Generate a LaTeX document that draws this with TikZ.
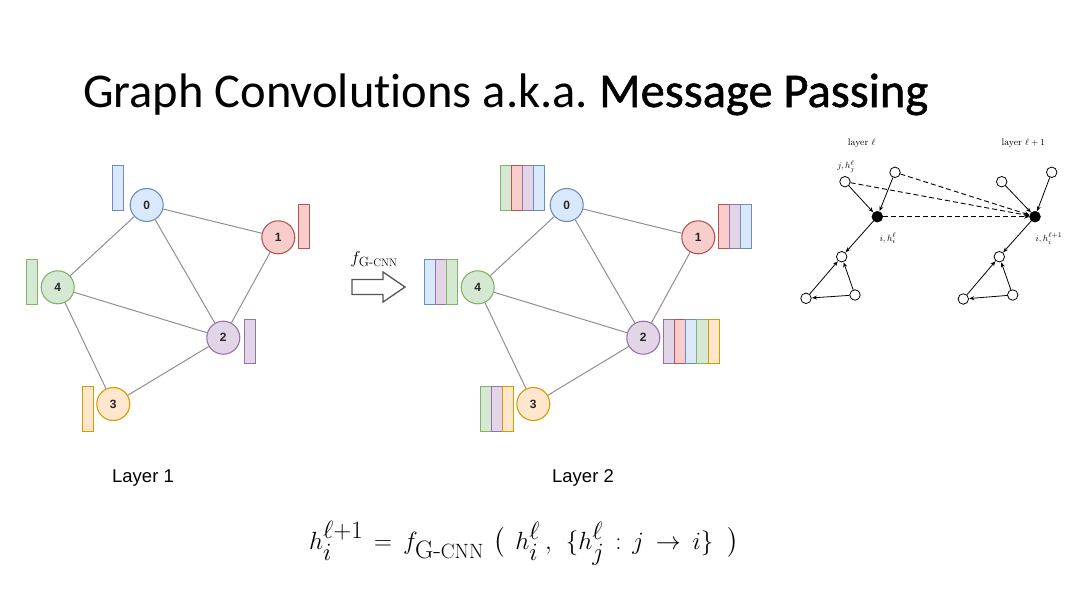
\documentclass[tikz,border=0pt]{standalone}
\usepackage{amsmath}
\usepackage{graphicx}
\usepackage{fontspec}
\setmainfont{Latin Modern Roman}
\newfontfamily\titlefont[Ligatures=NoCommon]{Carlito}
\newfontfamily\titleboldfont[Ligatures=NoCommon,FakeBold=1.1]{Carlito}
\newfontfamily\arialfont{Liberation Sans}
\usetikzlibrary{arrows.meta}
\definecolor{blueF}{HTML}{DAE8FC}\definecolor{blueS}{HTML}{6C8EBF}
\definecolor{redF}{HTML}{F8CECC}\definecolor{redS}{HTML}{B85450}
\definecolor{greenF}{HTML}{D5E8D4}\definecolor{greenS}{HTML}{82B366}
\definecolor{purpleF}{HTML}{E1D5E7}\definecolor{purpleS}{HTML}{9673A6}
\definecolor{orangeF}{HTML}{FFE6CC}\definecolor{orangeS}{HTML}{D79B00}
\definecolor{edgeC}{HTML}{909090}
\definecolor{arrC}{HTML}{555555}
\newcommand{\gcnn}{\text{G-\scalebox{0.82}{CNN}}}
\tikzset{
  gnode/.style={circle, minimum size=33pt, inner sep=0pt, line width=1.1pt, font=\arialfont\bfseries\fontsize{12}{13}\selectfont, text=black!85},
  gedge/.style={draw=edgeC, line width=1pt},
  snode/.style={circle, draw=black, minimum size=10.5pt, inner sep=0pt, line width=0.8pt, fill=white},
  bnode/.style={circle, draw=black, fill=black, minimum size=11pt, inner sep=0pt},
  sarrow/.style={line width=0.8pt, -{Stealth[length=5pt,width=4pt]}, shorten >=0.3pt},
  darrow/.style={line width=0.9pt, dash pattern=on 5pt off 3pt, -{Stealth[length=5pt,width=4pt]}},
  smalllbl/.style={font=\fontsize{9.5}{10}\selectfont, inner sep=0pt},
  layerlbl/.style={font=\arialfont\fontsize{18.5}{20}\selectfont},
}
\newcommand{\stripbar}[4]{% x0, y0, y1, list of colours
  \foreach \cc [count=\k from 0] in {#4}{
    \draw[draw=\cc S, fill=\cc F, line width=1pt] ({#1+11.2*\k},#2) rectangle ({#1+11.2*(\k+1)},#3);
  }
}
\begin{document}
\frenchspacing
\begin{tikzpicture}[x=1pt,y=-1pt]
\useasboundingbox (0,0) rectangle (1080,608);
\fill[white] (0,0) rectangle (1080,608);

% title
\node[anchor=base west, inner sep=0pt, font=\fontsize{48.5}{52}\selectfont] (title) at (83,107)
  {\titlefont Graph Convolutions a.k.a. {\titleboldfont Message Passing}};

% ---------- left graph (layer 1)
\foreach \cname/\bx/\bya/\byb in {blue/112.7/165/210, red/298.3/204/248.7, green/26/259.3/304, purple/244.3/319.3/363.3, orange/82.7/386.7/431}{
  \stripbar{\bx}{\bya}{\byb}{\cname}
}
\node[gnode, draw=blueS, fill=blueF] (a0) at (146.7,205) {0};
\node[gnode, draw=redS, fill=redF] (a1) at (278.3,237.3) {1};
\node[gnode, draw=purpleS, fill=purpleF] (a2) at (223.3,337.7) {2};
\node[gnode, draw=orangeS, fill=orangeF] (a3) at (113.3,404) {3};
\node[gnode, draw=greenS, fill=greenF] (a4) at (57.7,287.3) {4};
\draw[gedge] (a0) -- (a1);
\draw[gedge] (a0) -- (a4);
\draw[gedge] (a0) -- (a2);
\draw[gedge] (a1) -- (a2);
\draw[gedge] (a4) -- (a2);
\draw[gedge] (a4) -- (a3);
\draw[gedge] (a3) -- (a2);
\node[layerlbl] (l1) at (143,478) {Layer 1};

% ---------- arrow
\node[anchor=base, font=\fontsize{19}{21}\selectfont, inner sep=0pt] (fl) at (374,263) {$f_{\gcnn}$};
\draw[draw=arrC, line width=1.3pt, fill=white, line join=miter]
  (352,279.5) -- (383,279.5) -- (383,272) -- (405,287) -- (383,302) -- (383,294.5) -- (352,294.5) -- cycle;

% ---------- right graph (layer 2)
\stripbar{500}{165}{210}{green,red,purple,blue}
\stripbar{718.3}{204}{248.5}{red,purple,blue}
\stripbar{424.3}{259.3}{304}{blue,purple,green}
\stripbar{663.3}{319.3}{363.3}{purple,red,blue,green,orange}
\stripbar{480}{386.7}{431}{green,purple,orange}
\node[gnode, draw=blueS, fill=blueF] (b0) at (566.7,205) {0};
\node[gnode, draw=redS, fill=redF] (b1) at (698.3,237.3) {1};
\node[gnode, draw=purpleS, fill=purpleF] (b2) at (643.3,337.7) {2};
\node[gnode, draw=orangeS, fill=orangeF] (b3) at (533.3,404) {3};
\node[gnode, draw=greenS, fill=greenF] (b4) at (477.7,287.3) {4};
\draw[gedge] (b0) -- (b1);
\draw[gedge] (b0) -- (b4);
\draw[gedge] (b0) -- (b2);
\draw[gedge] (b1) -- (b2);
\draw[gedge] (b4) -- (b2);
\draw[gedge] (b4) -- (b3);
\draw[gedge] (b3) -- (b2);
\node[layerlbl] (l2) at (583,478) {Layer 2};

% ---------- message passing sketch
\node[smalllbl] (tl) at (861.7,143.5) {layer $\ell$};
\node[smalllbl] (tr) at (1023.3,143.5) {layer $\ell+1$};
% left
\node[snode] (pj) at (845,181.7) {};
\node[snode] (pt) at (895,172.3) {};
\node[bnode] (pi) at (877.3,216.7) {};
\node[snode] (pm) at (841.7,256.7) {};
\node[snode] (pbl) at (806,298.3) {};
\node[snode] (pbr) at (855,295) {};
% right
\node[snode] (qj) at (1001.7,181.7) {};
\node[snode] (qt) at (1051.7,172.3) {};
\node[bnode] (qi) at (1035,216.7) {};
\node[snode] (qm) at (999.3,256.7) {};
\node[snode] (qbl) at (963.3,299) {};
\node[snode] (qbr) at (1012.7,295) {};
\node[smalllbl] (lj) at (846,166.5) {$j, h_j^\ell$};
\node[smalllbl] (li) at (888,238) {$i, h_i^\ell$};
\node[smalllbl] (lq) at (1049,238.5) {$i, h_i^{\ell+1}$};
\foreach \p in {p,q}{
  \draw[sarrow] (\p j) -- (\p i);
  \draw[sarrow] (\p t) -- (\p i);
  \draw[sarrow] (\p i) -- (\p m);
  \draw[sarrow] (\p bl) -- (\p m);
  \draw[sarrow] (\p br) -- (\p m);
  \draw[sarrow] (\p br) -- (\p bl);
}
\draw[darrow] (pj) -- (qi);
\draw[darrow] (pt) -- (qi);
\draw[darrow] (pi) -- (qi);

% ---------- formula
\node[anchor=base west, font=\fontsize{36}{40}\selectfont, inner sep=0pt] (eq) at (309,549)
  {$h_i^{\ell+1} \mathrel{\hspace{4pt}=\hspace{4pt}} f_{\gcnn}\hspace{10pt}\bigl(\hspace{10pt} h_i^\ell\hspace{5pt},\hspace{10pt}\{h_j^\ell \mathrel{\hspace{4pt}:\hspace{4pt}} j \mathrel{\hspace{5pt}\to\hspace{5pt}} i\}\hspace{14pt}\bigr)$};
\end{tikzpicture}
\end{document}
